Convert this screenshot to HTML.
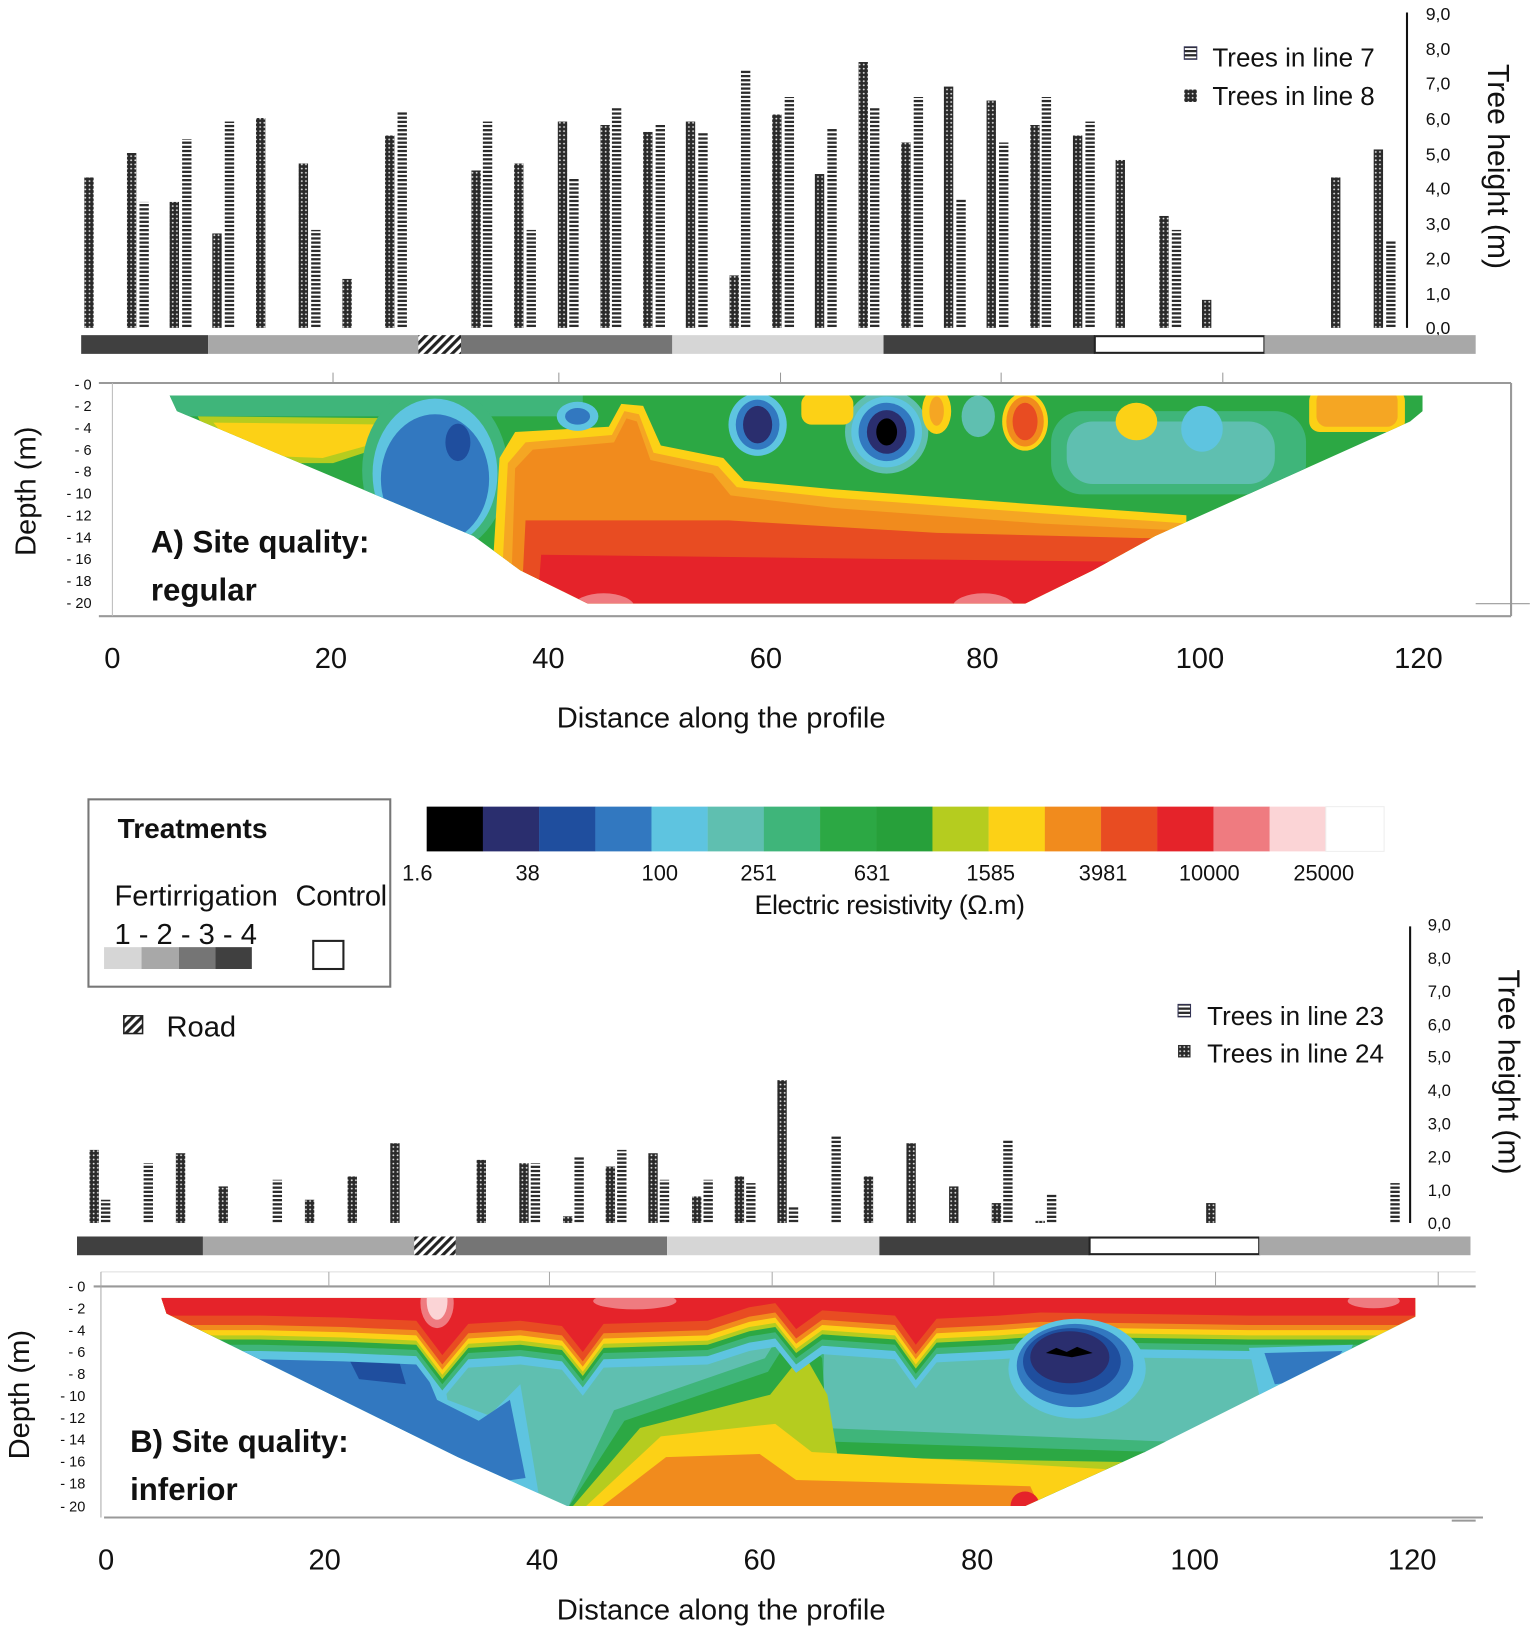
<!DOCTYPE html>
<html><head><meta charset="utf-8"><style>
html,body{margin:0;padding:0;background:#fff}
svg{display:block}
text{font-family:"Liberation Sans",sans-serif;fill:#111}
.b{font-weight:bold}
</style></head><body>
<svg width="1535" height="1632" viewBox="0 0 1475 1568" preserveAspectRatio="none" xmlns="http://www.w3.org/2000/svg">
<defs>
<pattern id="dot" width="4" height="4" patternUnits="userSpaceOnUse"><rect width="4" height="4" fill="#2a2a2a"/><circle cx="2" cy="2" r="0.9" fill="#ddd"/></pattern>
<pattern id="str" width="10" height="4" patternUnits="userSpaceOnUse"><rect width="10" height="2.2" fill="#2a2a2a"/></pattern>
<pattern id="hat" width="6" height="6" patternUnits="userSpaceOnUse" patternTransform="rotate(45)"><rect width="6" height="6" fill="#fff"/><rect width="3" height="6" fill="#222"/></pattern>
<clipPath id="ca"><path d="M163,380 L1367,380 L1367,395 L1355,405 L1110,515 L1050,548 L985,580 L565,580 L500,548 L455,515 L170,395 Z"/></clipPath>
<clipPath id="cb"><path d="M155,1247 L1360,1247 L1360,1265 L1300,1295 L1100,1395 L985,1447 L545,1447 L440,1400 L160,1262 Z"/></clipPath>
<path id="wave" d="M140,1230 L1380,1230 L1380,1262 L1360,1262 L1200,1262 L1000,1259 L960,1262 L900,1265 L880,1290 L860,1262 L790,1257 L765,1275 L745,1250 L720,1254 L680,1267 L580,1270 L560,1297 L540,1272 L500,1267 L450,1270 L425,1300 L400,1267 L330,1264 L250,1262 L140,1262 Z"/>
</defs>

<!-- ===== PANEL A trees ===== -->
<line x1="1352" y1="12" x2="1352" y2="315" stroke="#111" stroke-width="2"/>
<g font-size="17" fill="#222">
<text x="1370" y="19">9,0</text><text x="1370" y="53">8,0</text><text x="1370" y="86">7,0</text><text x="1370" y="120">6,0</text><text x="1370" y="154">5,0</text><text x="1370" y="187">4,0</text><text x="1370" y="221">3,0</text><text x="1370" y="254">2,0</text><text x="1370" y="288">1,0</text><text x="1370" y="321">0,0</text>
</g>
<text transform="translate(1430,160) rotate(90)" font-size="29" text-anchor="middle">Tree height (m)</text>
<rect x="1138" y="45" width="12" height="12" fill="url(#str)" stroke="#335" stroke-width="1"/>
<text x="1165" y="64" font-size="25">Trees in line 7</text>
<rect x="1138" y="86" width="12" height="12" fill="url(#dot)"/>
<text x="1165" y="101" font-size="25">Trees in line 8</text>

<!-- strip A -->
<rect x="78" y="322" width="122" height="18" fill="#404040"/>
<rect x="200" y="322" width="202" height="18" fill="#a8a8a8"/>
<rect x="402" y="322" width="41" height="18" fill="url(#hat)"/>
<rect x="443" y="322" width="203" height="18" fill="#757575"/>
<rect x="646" y="322" width="203" height="18" fill="#d6d6d6"/>
<rect x="849" y="322" width="203" height="18" fill="#404040"/>
<rect x="1052" y="323" width="163" height="16" fill="#fff" stroke="#222" stroke-width="2"/>
<rect x="1215" y="322" width="203" height="18" fill="#a8a8a8"/>

<!-- panel A frame -->
<line x1="95" y1="368" x2="1452" y2="368" stroke="#999" stroke-width="2"/>
<line x1="1452" y1="368" x2="1452" y2="592" stroke="#999" stroke-width="2"/>
<line x1="95" y1="592" x2="1452" y2="592" stroke="#999" stroke-width="2"/>
<line x1="108" y1="368" x2="108" y2="592" stroke="#bbb" stroke-width="1"/>
<g stroke="#999" stroke-width="1"><line x1="320" y1="358" x2="320" y2="368"/><line x1="537" y1="358" x2="537" y2="368"/><line x1="750" y1="358" x2="750" y2="368"/><line x1="962" y1="358" x2="962" y2="368"/><line x1="1175" y1="358" x2="1175" y2="368"/><line x1="1418" y1="580" x2="1470" y2="580"/></g>
<g font-size="14" fill="#222" text-anchor="end">
<text x="88" y="374">- 0</text><text x="88" y="395">- 2</text><text x="88" y="416">- 4</text><text x="88" y="437">- 6</text><text x="88" y="458">- 8</text><text x="88" y="479">- 10</text><text x="88" y="500">- 12</text><text x="88" y="521">- 14</text><text x="88" y="542">- 16</text><text x="88" y="563">- 18</text><text x="88" y="584">- 20</text>
</g>
<text transform="translate(34,472) rotate(-90)" font-size="28" text-anchor="middle">Depth (m)</text>

<g clip-path="url(#ca)">
<rect x="150" y="370" width="1230" height="220" fill="#2ca844"/>
<rect x="160" y="378" width="400" height="22" fill="#3fb57a"/>
<path d="M190,400 L400,402 L395,420 L320,445 L250,445 L200,420 Z" fill="#b5cc1f"/>
<path d="M205,406 L385,408 L375,422 L310,440 L255,438 L215,418 Z" fill="#fcd116"/>
<ellipse cx="418" cy="452" rx="70" ry="82" fill="#3fb57a"/>
<ellipse cx="418" cy="455" rx="60" ry="72" fill="#5ec4e0"/>
<ellipse cx="418" cy="460" rx="52" ry="62" fill="#3278c0"/>
<ellipse cx="440" cy="425" rx="12" ry="18" fill="#1f4e9e"/>
<path d="M480,440 L495,415 L585,410 L597,388 L618,390 L635,428 L695,440 L715,462 L800,470 L1000,485 L1140,495 L1140,600 L470,600 Z" fill="#fcd116"/>
<path d="M488,445 L505,425 L588,418 L600,395 L614,398 L628,435 L690,448 L708,468 L800,478 L1000,493 L1140,503 L1140,600 L480,600 Z" fill="#f5a623"/>
<path d="M495,450 L512,432 L590,425 L602,402 L612,405 L625,442 L685,455 L702,476 L800,488 L1000,503 L1140,510 L1140,600 L490,600 Z" fill="#f18b1d"/>
<path d="M505,500 L700,500 L900,512 L1140,518 L1140,600 L500,600 Z" fill="#e84c22"/>
<path d="M520,533 L1100,540 L1100,600 L515,600 Z" fill="#e5232a"/>
<ellipse cx="580" cy="584" rx="30" ry="14" fill="#ef7b80"/>
<ellipse cx="945" cy="584" rx="30" ry="14" fill="#ef7b80"/>
<rect x="1010" y="395" width="245" height="80" rx="30" fill="#3fb57a"/>
<rect x="1025" y="405" width="200" height="60" rx="25" fill="#5fbfb0"/>
<ellipse cx="1155" cy="412" rx="20" ry="22" fill="#5ec4e0"/>
<ellipse cx="555" cy="400" rx="20" ry="14" fill="#5ec4e0"/>
<ellipse cx="555" cy="400" rx="12" ry="8" fill="#3278c0"/>
<ellipse cx="728" cy="408" rx="28" ry="30" fill="#5ec4e0"/>
<ellipse cx="728" cy="408" rx="21" ry="24" fill="#3278c0"/>
<ellipse cx="728" cy="408" rx="14" ry="18" fill="#2a2e6e"/>
<ellipse cx="852" cy="415" rx="40" ry="40" fill="#5fbfb0"/>
<ellipse cx="852" cy="415" rx="34" ry="34" fill="#5ec4e0"/>
<ellipse cx="852" cy="415" rx="27" ry="28" fill="#3278c0"/>
<ellipse cx="852" cy="415" rx="19" ry="21" fill="#2a2e6e"/>
<ellipse cx="852" cy="415" rx="10" ry="13" fill="#000"/>
<rect x="770" y="378" width="50" height="30" rx="10" fill="#fcd116"/>
<ellipse cx="900" cy="395" rx="14" ry="22" fill="#fcd116"/>
<ellipse cx="900" cy="395" rx="7" ry="14" fill="#f5a623"/>
<ellipse cx="940" cy="400" rx="16" ry="20" fill="#5fbfb0"/>
<ellipse cx="985" cy="405" rx="22" ry="28" fill="#fcd116"/>
<ellipse cx="985" cy="405" rx="18" ry="24" fill="#f18b1d"/>
<ellipse cx="985" cy="405" rx="12" ry="18" fill="#e84c22"/>
<ellipse cx="1092" cy="405" rx="20" ry="18" fill="#fcd116"/>
<rect x="1258" y="375" width="92" height="40" rx="10" fill="#fcd116"/>
<rect x="1265" y="375" width="78" height="35" rx="10" fill="#f5a623"/>
</g>
<text x="145" y="531" font-size="30" class="b" fill="#111">A) Site quality:</text>
<text x="145" y="577" font-size="30" class="b" fill="#111">regular</text>

<g font-size="28" text-anchor="middle">
<text x="108" y="642">0</text><text x="318" y="642">20</text><text x="527" y="642">40</text><text x="736" y="642">60</text><text x="944" y="642">80</text><text x="1153" y="642">100</text><text x="1363" y="642">120</text>
<text x="693" y="699" textLength="316">Distance along the profile</text>
</g>

<!-- ===== Legend / colorbar ===== -->
<rect x="85" y="768" width="290" height="180" fill="#fff" stroke="#777" stroke-width="2"/>
<text x="113" y="805" font-size="27" class="b">Treatments</text>
<text x="110" y="870" font-size="28" textLength="157">Fertirrigation</text>
<text x="284" y="870" font-size="28" textLength="88">Control</text>
<text x="110" y="907" font-size="28">1 - 2 - 3 - 4</text>
<rect x="100" y="910" width="36" height="21" fill="#d6d6d6"/><rect x="136" y="910" width="36" height="21" fill="#a8a8a8"/><rect x="172" y="910" width="35" height="21" fill="#757575"/><rect x="207" y="910" width="35" height="21" fill="#404040"/>
<rect x="301" y="904" width="29" height="27" fill="#fff" stroke="#222" stroke-width="2"/>
<rect x="119" y="976" width="18" height="17" fill="url(#hat)" stroke="#222" stroke-width="1.5"/>
<text x="160" y="996" font-size="28">Road</text>

<g>
<rect x="410" y="775" width="54.2" height="43" fill="#000"/>
<rect x="464" y="775" width="54.2" height="43" fill="#2a2e6e"/>
<rect x="518" y="775" width="54.2" height="43" fill="#1f4e9e"/>
<rect x="572" y="775" width="54.2" height="43" fill="#3278c0"/>
<rect x="626" y="775" width="54.2" height="43" fill="#5ec4e0"/>
<rect x="680" y="775" width="54.2" height="43" fill="#5fbfb0"/>
<rect x="734" y="775" width="54.2" height="43" fill="#3fb57a"/>
<rect x="788" y="775" width="54.2" height="43" fill="#2ca844"/>
<rect x="842" y="775" width="54.2" height="43" fill="#27a03a"/>
<rect x="896" y="775" width="54.2" height="43" fill="#b5cc1f"/>
<rect x="950" y="775" width="54.2" height="43" fill="#fcd116"/>
<rect x="1004" y="775" width="54.2" height="43" fill="#f18b1d"/>
<rect x="1058" y="775" width="54.2" height="43" fill="#e84c22"/>
<rect x="1112" y="775" width="54.2" height="43" fill="#e5232a"/>
<rect x="1166" y="775" width="54.2" height="43" fill="#ef7b80"/>
<rect x="1220" y="775" width="54.2" height="43" fill="#fbd4d6"/>
<rect x="1274" y="775" width="56" height="43" fill="#fff" stroke="#eee"/>
</g>
<g font-size="21" text-anchor="middle">
<text x="401" y="846">1.6</text><text x="507" y="846">38</text><text x="634" y="846">100</text><text x="729" y="846">251</text><text x="838" y="846">631</text><text x="952" y="846">1585</text><text x="1060" y="846">3981</text><text x="1162" y="846">10000</text><text x="1272" y="846">25000</text>
<text x="855" y="878" font-size="26" textLength="260">Electric resistivity (Ω.m)</text>
</g>

<!-- ===== PANEL B trees ===== -->
<line x1="1355" y1="890" x2="1355" y2="1175" stroke="#111" stroke-width="2"/>
<g font-size="16" fill="#222">
<text x="1372" y="894">9,0</text><text x="1372" y="926">8,0</text><text x="1372" y="958">7,0</text><text x="1372" y="990">6,0</text><text x="1372" y="1021">5,0</text><text x="1372" y="1053">4,0</text><text x="1372" y="1085">3,0</text><text x="1372" y="1117">2,0</text><text x="1372" y="1149">1,0</text><text x="1372" y="1181">0,0</text>
</g>
<text transform="translate(1440,1030) rotate(90)" font-size="29" text-anchor="middle">Tree height (m)</text>
<rect x="1132" y="965" width="12" height="12" fill="url(#str)" stroke="#335" stroke-width="1"/>
<text x="1160" y="985" font-size="25">Trees in line 23</text>
<rect x="1132" y="1004" width="12" height="12" fill="url(#dot)"/>
<text x="1160" y="1021" font-size="25">Trees in line 24</text>

<rect x="74" y="1188" width="121" height="18" fill="#404040"/>
<rect x="195" y="1188" width="203" height="18" fill="#a8a8a8"/>
<rect x="398" y="1188" width="40" height="18" fill="url(#hat)"/>
<rect x="438" y="1188" width="203" height="18" fill="#757575"/>
<rect x="641" y="1188" width="204" height="18" fill="#d6d6d6"/>
<rect x="845" y="1188" width="202" height="18" fill="#404040"/>
<rect x="1047" y="1189" width="163" height="16" fill="#fff" stroke="#222" stroke-width="2"/>
<rect x="1210" y="1188" width="203" height="18" fill="#a8a8a8"/>

<line x1="90" y1="1236" x2="1418" y2="1236" stroke="#999" stroke-width="2"/>
<line x1="97" y1="1222" x2="1418" y2="1222" stroke="#ddd" stroke-width="1"/>
<line x1="100" y1="1458" x2="1425" y2="1458" stroke="#999" stroke-width="2"/>
<line x1="1395" y1="1461" x2="1418" y2="1461" stroke="#999" stroke-width="2"/>
<g stroke="#aaa" stroke-width="1"><line x1="316" y1="1222" x2="316" y2="1236"/><line x1="528" y1="1222" x2="528" y2="1236"/><line x1="742" y1="1222" x2="742" y2="1236"/><line x1="955" y1="1222" x2="955" y2="1236"/><line x1="1168" y1="1222" x2="1168" y2="1236"/><line x1="1382" y1="1222" x2="1382" y2="1236"/><line x1="97" y1="1222" x2="97" y2="1458"/></g>
<g font-size="14" fill="#222" text-anchor="end">
<text x="82" y="1241">- 0</text><text x="82" y="1262">- 2</text><text x="82" y="1283">- 4</text><text x="82" y="1304">- 6</text><text x="82" y="1325">- 8</text><text x="82" y="1346">- 10</text><text x="82" y="1367">- 12</text><text x="82" y="1388">- 14</text><text x="82" y="1409">- 16</text><text x="82" y="1430">- 18</text><text x="82" y="1452">- 20</text>
</g>
<text transform="translate(28,1340) rotate(-90)" font-size="28" text-anchor="middle">Depth (m)</text>

<g clip-path="url(#cb)">
<rect x="140" y="1240" width="1240" height="215" fill="#5fbfb0"/>
<path d="M200,1285 L420,1290 L430,1345 L470,1360 L500,1330 L520,1450 L200,1450 Z" fill="#5ec4e0"/>
<path d="M230,1292 L400,1297 L420,1345 L460,1365 L490,1345 L505,1420 L470,1425 L230,1330 Z" fill="#3278c0"/>
<path d="M330,1295 L380,1296 L390,1330 L345,1325 Z" fill="#1f4e9e"/>
<path d="M545,1450 L590,1355 L735,1305 L760,1265 L792,1290 L790,1372 L1120,1385 L1100,1450 Z" fill="#3fb57a"/>
<path d="M545,1450 L600,1365 L738,1318 L765,1275 L790,1305 L795,1385 L1110,1395 L1100,1450 Z" fill="#2ca844"/>
<path d="M548,1450 L615,1372 L740,1340 L772,1300 L795,1340 L805,1400 L1100,1405 L1090,1450 Z" fill="#b5cc1f"/>
<path d="M560,1450 L635,1380 L745,1368 L780,1395 L1070,1412 L1060,1450 Z" fill="#fcd116"/>
<path d="M575,1450 L640,1400 L730,1397 L765,1422 L990,1428 L1000,1450 Z" fill="#f18b1d"/>
<ellipse cx="985" cy="1447" rx="14" ry="14" fill="#e5232a"/>
<use href="#wave" transform="translate(0,44)" fill="#5ec4e0"/>
<use href="#wave" transform="translate(0,36)" fill="#3fb57a"/>
<use href="#wave" transform="translate(0,30)" fill="#2ca844"/>
<use href="#wave" transform="translate(0,25)" fill="#b5cc1f"/>
<use href="#wave" transform="translate(0,21)" fill="#fcd116"/>
<use href="#wave" transform="translate(0,16)" fill="#f18b1d"/>
<use href="#wave" transform="translate(0,11)" fill="#e84c22"/>
<use href="#wave" transform="translate(0,2)" fill="#e5232a"/>
<ellipse cx="420" cy="1252" rx="16" ry="24" fill="#ef7b80"/>
<ellipse cx="420" cy="1250" rx="10" ry="18" fill="#fbd4d6"/>
<ellipse cx="610" cy="1250" rx="40" ry="8" fill="#ef7b80"/>
<ellipse cx="1320" cy="1250" rx="25" ry="7" fill="#ef7b80"/>
<ellipse cx="1035" cy="1315" rx="66" ry="48" fill="#5ec4e0"/>
<ellipse cx="1033" cy="1312" rx="56" ry="40" fill="#3278c0"/>
<ellipse cx="1030" cy="1308" rx="47" ry="32" fill="#1f4e9e"/>
<ellipse cx="1028" cy="1304" rx="38" ry="25" fill="#2a2e6e"/>
<path d="M1005,1300 L1015,1295 L1025,1299 L1035,1294 L1050,1300 L1030,1304 Z" fill="#000"/>
<path d="M1200,1295 L1300,1292 L1280,1340 L1210,1340 Z" fill="#5ec4e0"/>
<path d="M1215,1300 L1290,1298 L1270,1325 L1225,1330 Z" fill="#3278c0"/>
</g>
<text x="125" y="1395" font-size="30" class="b" fill="#111">B) Site quality:</text>
<text x="125" y="1441" font-size="30" class="b" fill="#111">inferior</text>

<g font-size="28" text-anchor="middle">
<text x="102" y="1508">0</text><text x="312" y="1508">20</text><text x="521" y="1508">40</text><text x="730" y="1508">60</text><text x="939" y="1508">80</text><text x="1148" y="1508">100</text><text x="1357" y="1508">120</text>
<text x="693" y="1556" textLength="316">Distance along the profile</text>
</g>

<!-- bars A -->
<g>
<rect x="81" y="170.5" width="9" height="144.5" fill="url(#dot)"/>
<rect x="122" y="147" width="9" height="168" fill="url(#dot)"/><rect x="134" y="194" width="9" height="121" fill="url(#str)"/>
<rect x="163" y="194" width="9" height="121" fill="url(#dot)"/><rect x="175" y="133.6" width="9" height="181.4" fill="url(#str)"/>
<rect x="204" y="224.3" width="9" height="90.7" fill="url(#dot)"/><rect x="216" y="116.8" width="9" height="198.2" fill="url(#str)"/>
<rect x="246" y="113.4" width="9" height="201.6" fill="url(#dot)"/>
<rect x="287" y="157.1" width="9" height="157.9" fill="url(#dot)"/><rect x="299" y="220.9" width="9" height="94.1" fill="url(#str)"/>
<rect x="329" y="268" width="9" height="47" fill="url(#dot)"/>
<rect x="370" y="130.2" width="9" height="184.8" fill="url(#dot)"/><rect x="382" y="106.7" width="9" height="208.3" fill="url(#str)"/>
<rect x="453" y="163.8" width="9" height="151.2" fill="url(#dot)"/><rect x="464" y="116.8" width="9" height="198.2" fill="url(#str)"/>
<rect x="494" y="157.1" width="9" height="157.9" fill="url(#dot)"/><rect x="506" y="220.9" width="9" height="94.1" fill="url(#str)"/>
<rect x="536" y="116.8" width="9" height="198.2" fill="url(#dot)"/><rect x="547" y="170.5" width="9" height="144.5" fill="url(#str)"/>
<rect x="577" y="120.1" width="9" height="194.9" fill="url(#dot)"/><rect x="588" y="103.3" width="9" height="211.7" fill="url(#str)"/>
<rect x="618" y="126.8" width="9" height="188.2" fill="url(#dot)"/><rect x="630" y="120.1" width="9" height="194.9" fill="url(#str)"/>
<rect x="659" y="116.8" width="9" height="198.2" fill="url(#dot)"/><rect x="671" y="126.8" width="9" height="188.2" fill="url(#str)"/>
<rect x="701" y="264.6" width="9" height="50.4" fill="url(#dot)"/><rect x="712" y="66.4" width="9" height="248.6" fill="url(#str)"/>
<rect x="742" y="110" width="9" height="205" fill="url(#dot)"/><rect x="754" y="93.2" width="9" height="221.8" fill="url(#str)"/>
<rect x="783" y="167.2" width="9" height="147.8" fill="url(#dot)"/><rect x="795" y="123.5" width="9" height="191.5" fill="url(#str)"/>
<rect x="825" y="59.6" width="9" height="255.4" fill="url(#dot)"/><rect x="836" y="103.3" width="9" height="211.7" fill="url(#str)"/>
<rect x="866" y="136.9" width="9" height="178.1" fill="url(#dot)"/><rect x="878" y="93.2" width="9" height="221.8" fill="url(#str)"/>
<rect x="907" y="83.2" width="9" height="231.8" fill="url(#dot)"/><rect x="919" y="190.7" width="9" height="124.3" fill="url(#str)"/>
<rect x="948" y="96.6" width="9" height="218.4" fill="url(#dot)"/><rect x="960" y="136.9" width="9" height="178.1" fill="url(#str)"/>
<rect x="990" y="120.1" width="9" height="194.9" fill="url(#dot)"/><rect x="1001" y="93.2" width="9" height="221.8" fill="url(#str)"/>
<rect x="1031" y="130.2" width="9" height="184.8" fill="url(#dot)"/><rect x="1043" y="116.8" width="9" height="198.2" fill="url(#str)"/>
<rect x="1072" y="153.7" width="9" height="161.3" fill="url(#dot)"/>
<rect x="1114" y="207.5" width="9" height="107.5" fill="url(#dot)"/><rect x="1126" y="220.9" width="9" height="94.1" fill="url(#str)"/>
<rect x="1155" y="288.1" width="9" height="26.9" fill="url(#dot)"/>
<rect x="1279" y="170.5" width="9" height="144.5" fill="url(#dot)"/>
<rect x="1320" y="143.6" width="9" height="171.4" fill="url(#dot)"/><rect x="1332" y="231" width="9" height="84" fill="url(#str)"/>
</g>
<!-- bars B -->
<g>
<rect x="86" y="1104.8" width="9" height="70.2" fill="url(#dot)"/><rect x="97" y="1152.7" width="9" height="22.3" fill="url(#str)"/>
<rect x="138" y="1117.6" width="9" height="57.4" fill="url(#str)"/>
<rect x="169" y="1108" width="9" height="67" fill="url(#dot)"/>
<rect x="210" y="1139.9" width="9" height="35.1" fill="url(#dot)"/>
<rect x="262" y="1133.5" width="9" height="41.5" fill="url(#str)"/>
<rect x="293" y="1152.7" width="9" height="22.3" fill="url(#dot)"/>
<rect x="334" y="1130.3" width="9" height="44.7" fill="url(#dot)"/>
<rect x="375" y="1098.4" width="9" height="76.6" fill="url(#dot)"/>
<rect x="458" y="1114.4" width="9" height="60.6" fill="url(#dot)"/>
<rect x="499" y="1117.6" width="9" height="57.4" fill="url(#dot)"/><rect x="510" y="1117.6" width="9" height="57.4" fill="url(#str)"/>
<rect x="541" y="1168.6" width="9" height="6.4" fill="url(#dot)"/><rect x="552" y="1111.2" width="9" height="63.8" fill="url(#str)"/>
<rect x="582" y="1120.8" width="9" height="54.2" fill="url(#dot)"/><rect x="593" y="1104.8" width="9" height="70.2" fill="url(#str)"/>
<rect x="623" y="1108" width="9" height="67" fill="url(#dot)"/><rect x="634" y="1133.5" width="9" height="41.5" fill="url(#str)"/>
<rect x="665" y="1149.5" width="9" height="25.5" fill="url(#dot)"/><rect x="676" y="1133.5" width="9" height="41.5" fill="url(#str)"/>
<rect x="706" y="1130.3" width="9" height="44.7" fill="url(#dot)"/><rect x="717" y="1136.7" width="9" height="38.3" fill="url(#str)"/>
<rect x="747" y="1037.8" width="9" height="137.2" fill="url(#dot)"/><rect x="758" y="1159" width="9" height="16" fill="url(#str)"/>
<rect x="799" y="1092" width="9" height="83" fill="url(#str)"/>
<rect x="830" y="1130.3" width="9" height="44.7" fill="url(#dot)"/>
<rect x="871" y="1098.4" width="9" height="76.6" fill="url(#dot)"/>
<rect x="912" y="1139.9" width="9" height="35.1" fill="url(#dot)"/>
<rect x="953" y="1155.9" width="9" height="19.1" fill="url(#dot)"/><rect x="964" y="1095.2" width="9" height="79.8" fill="url(#str)"/>
<rect x="995" y="1173" width="9" height="2" fill="url(#dot)"/><rect x="1006" y="1146.3" width="9" height="28.7" fill="url(#str)"/>
<rect x="1159" y="1155.9" width="9" height="19.1" fill="url(#dot)"/>
<rect x="1336" y="1136.7" width="9" height="38.3" fill="url(#str)"/>
</g>
</svg>
</body></html>
